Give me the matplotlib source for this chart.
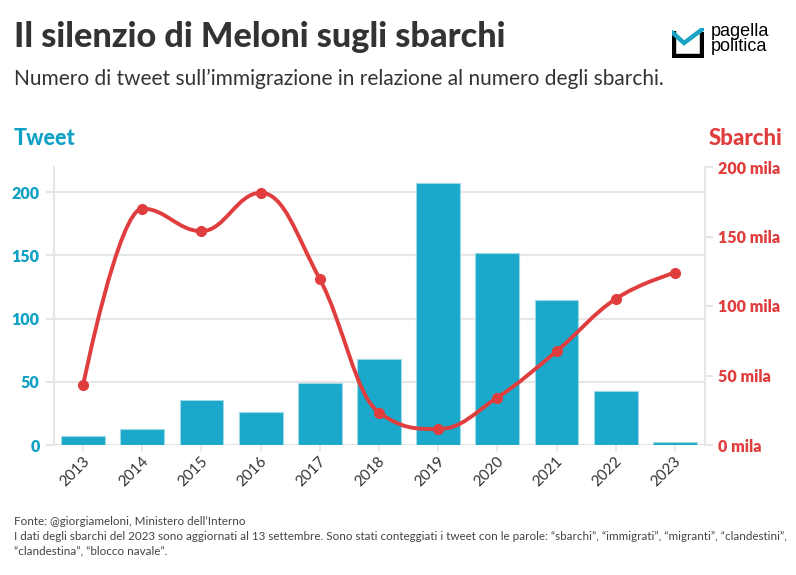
import matplotlib
matplotlib.use("Agg")
import matplotlib.pyplot as plt
import matplotlib.transforms as mtransforms
from matplotlib.path import Path
from matplotlib.patches import PathPatch

# dati
anni = ["2013", "2014", "2015", "2016", "2017", "2018", "2019", "2020", "2021", "2022", "2023"]
tweet = [7, 13, 36, 26, 49, 68, 207, 152, 115, 43, 2]
sbarchi = [42925, 170100, 153842, 181436, 119369, 23370, 11471, 34154, 67477, 105131, 124000]
tick_tweet = [0, 50, 100, 150, 200]
tick_sbarchi = [0, 50000, 100000, 150000, 200000]

BLU = "#1aa9ca"
BLU_TXT = "#0fa1c4"
ROSSO = "#e03e3e"
GRIGIO = "#e6e6e6"
TESTO = "#333333"

plt.rcParams["font.family"] = ["Lato", "DejaVu Sans"]


def spline_path(xs, ys, smoothing=1.5):
    # curva "spline" tipo Highcharts (controlli di Bezier)
    n = len(xs)
    lc = [None] * n
    rc = [None] * n
    den = smoothing + 1
    for i in range(1, n - 1):
        x, y = xs[i], ys[i]
        lx, ly = xs[i - 1], ys[i - 1]
        nx, ny = xs[i + 1], ys[i + 1]
        lcx = (smoothing * x + lx) / den
        lcy = (smoothing * y + ly) / den
        rcx = (smoothing * x + nx) / den
        rcy = (smoothing * y + ny) / den
        corr = (rcy - lcy) * (rcx - x) / (rcx - lcx) + y - rcy
        lcy += corr
        rcy += corr
        if lcy > ly and lcy > y:
            lcy = max(ly, y); rcy = 2 * y - lcy
        elif lcy < ly and lcy < y:
            lcy = min(ly, y); rcy = 2 * y - lcy
        if rcy > ny and rcy > y:
            rcy = max(ny, y); lcy = 2 * y - rcy
        elif rcy < ny and rcy < y:
            rcy = min(ny, y); lcy = 2 * y - rcy
        lc[i] = (lcx, lcy)
        rc[i] = (rcx, rcy)
    verts = [(xs[0], ys[0])]
    codes = [Path.MOVETO]
    for i in range(1, n):
        verts += [rc[i - 1] or (xs[i - 1], ys[i - 1]), lc[i] or (xs[i], ys[i]), (xs[i], ys[i])]
        codes += [Path.CURVE4] * 3
    return Path(verts, codes)


fig = plt.figure(figsize=(7.96, 5.75), dpi=100)
ax = fig.add_axes([53.5 / 796, 1 - 445 / 575, 651 / 796, 278 / 575])
x = list(range(len(anni)))

ax.bar(x, tweet, width=0.74, color=BLU, edgecolor="#9fd9e8", linewidth=0.8, zorder=2)
ax.set_xlim(-0.5, len(anni) - 0.5)
ax.set_ylim(0, 220)
ax.set_yticks(tick_tweet)
ax.set_axisbelow(True)
ax.grid(axis="y", color=GRIGIO, linewidth=1.5)
for s in ["top", "right", "bottom"]:
    ax.spines[s].set_visible(False)
ax.spines["left"].set_color(GRIGIO)
ax.spines["left"].set_linewidth(1.5)
ax.tick_params(axis="y", colors=GRIGIO, length=6, width=1.5, pad=4,
               labelcolor=BLU_TXT, labelsize=11.5)
for lb in ax.get_yticklabels():
    lb.set_fontweight("heavy")
ax.set_xticks(x)
ax.set_xticklabels(anni, rotation=45, ha="right", va="center", rotation_mode="anchor")
ax.tick_params(axis="x", colors=GRIGIO, length=5, width=1.2, pad=5,
               labelcolor=TESTO, labelsize=11)
sp = mtransforms.ScaledTranslation(0.04, 0, fig.dpi_scale_trans)
for lb in ax.get_xticklabels():
    lb.set_transform(lb.get_transform() + sp)

ax2 = ax.twinx()
ax2.set_ylim(0, 200000)
ax2.set_yticks(tick_sbarchi)
ax2.set_yticklabels([f"{v // 1000} mila" for v in tick_sbarchi])
for s in ["top", "left", "bottom"]:
    ax2.spines[s].set_visible(False)
ax2.spines["right"].set_color(GRIGIO)
ax2.spines["right"].set_linewidth(1.5)
ax2.tick_params(axis="y", colors=GRIGIO, length=6, width=1.5, pad=4,
                labelcolor=ROSSO, labelsize=11.5)
for lb in ax2.get_yticklabels():
    lb.set_fontweight("heavy")

ax2.add_patch(PathPatch(spline_path(x, sbarchi), facecolor="none",
                        edgecolor=ROSSO, linewidth=2.8, zorder=3, capstyle="round"))
ax2.plot(x, sbarchi, "o", color=ROSSO, markersize=7, zorder=4)

# titoli
fig.text(14 / 796, 1 - 47 / 575, "Il silenzio di Meloni sugli sbarchi", fontsize=24.7,
         fontweight="black", color=TESTO, va="baseline")
fig.text(14 / 796, 1 - 85 / 575,
         "Numero di tweet sull\u2019immigrazione in relazione al numero degli sbarchi.",
         fontsize=15, color=TESTO, va="baseline")
fig.text(14 / 796, 1 - 145 / 575, "Tweet", fontsize=15.5, fontweight="black",
         color=BLU_TXT, va="baseline")
fig.text(782 / 796, 1 - 145 / 575, "Sbarchi", fontsize=16, fontweight="black",
         color=ROSSO, va="baseline", ha="right")

# logo
lg = fig.add_axes([672 / 796, 1 - 58 / 575, 32 / 796, 30 / 575])
lg.set_xlim(0, 32)
lg.set_ylim(0, 30)
lg.axis("off")
lg.plot([2, 2, 30, 30], [27, 2, 2, 26], color="black", linewidth=3.2,
        solid_joinstyle="miter", solid_capstyle="butt")
lg.plot([1, 12, 32], [25, 15, 30], color="#1ba3c6", linewidth=3.2,
        solid_joinstyle="miter")
fig.text(711 / 796, 1 - 39 / 575, "pagella\npolitica", fontsize=13, color="black",
         family="Liberation Sans", va="center", linespacing=0.92)

# note
note = ("Fonte: @giorgiameloni, Ministero dell\u2019Interno\n"
        "I dati degli sbarchi del 2023 sono aggiornati al 13 settembre. Sono stati conteggiati i tweet "
        "con le parole: \u201csbarchi\u201d, \u201cimmigrati\u201d, \u201cmigranti\u201d, \u201cclandestini\u201d,\n"
        "\u201cclandestina\u201d, \u201cblocco navale\u201d.")
fig.text(14 / 796, 1 - 516 / 575, note, fontsize=8.35, color="#444444", va="top",
         linespacing=1.43)

fig.savefig("out.png", dpi=100, facecolor="white")
